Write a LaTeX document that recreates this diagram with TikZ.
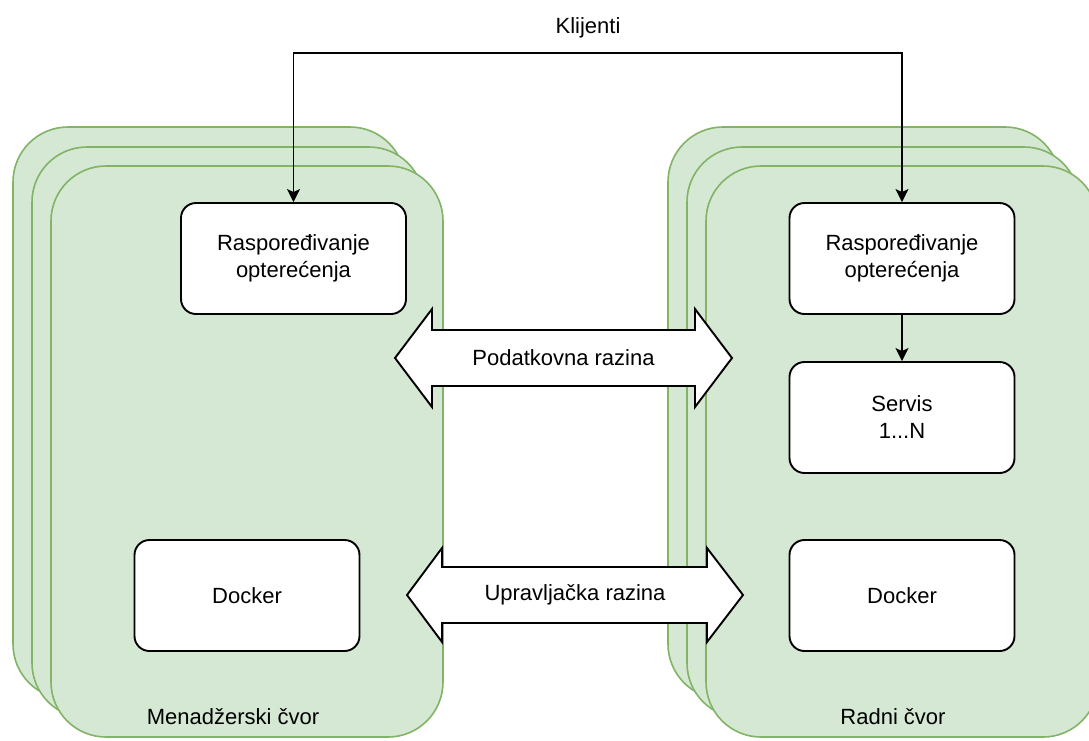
\documentclass[tikz,border=0pt]{standalone}
\usepackage{fontspec}
\setmainfont{Liberation Sans}
\usetikzlibrary{arrows.meta}
\definecolor{gfill}{HTML}{D5E8D4}
\definecolor{gline}{HTML}{82B366}
\tikzset{
  nodecard/.style={draw=gline, fill=gfill, line width=1.6pt, rounded corners=55pt},
  inbox/.style={draw=black, fill=white, line width=1.9pt, rounded corners=15pt,
    minimum width=225pt, minimum height=111pt, align=center, inner sep=0pt,
    font=\fontsize{22pt}{27pt}\selectfont},
  lbl/.style={font=\fontsize{22pt}{27pt}\selectfont, align=center, inner sep=0pt},
  arr/.style={line width=1.9pt, -{Stealth[length=13pt,width=13pt,inset=3pt]}},
  darr2/.style={line width=1.9pt, {Stealth[length=13pt,width=13pt,inset=3pt]}-{Stealth[length=13pt,width=13pt,inset=3pt]}},
  darr/.style={draw=black, fill=white, line width=1.9pt, line join=miter},
}
\begin{document}
\begin{tikzpicture}[x=1pt,y=-1pt]
\clip (0,0) rectangle (1089,740);
\fill[white] (0,0) rectangle (1089,740);
% left stack
\draw[nodecard] (13,127) rectangle (405,699);
\draw[nodecard] (32,147) rectangle (424,718);
\draw[nodecard] (51,166) rectangle (443,737);
% right stack
\draw[nodecard] (668,127) rectangle (1060,699);
\draw[nodecard] (687,147) rectangle (1079,718);
\draw[nodecard] (706,166) rectangle (1098,737);
\node[lbl] (mlab) at (233,717) {Menadžerski čvor};
\node[lbl] (rlab) at (893,717) {Radni čvor};
% inner boxes
\node[inbox] (lrasp) at (293.5,258.5) {Raspoređivanje\\opterećenja};
\node[inbox] (ldock) at (247,595.5) {Docker};
\node[inbox] (rrasp) at (902,258.5) {Raspoređivanje\\opterećenja};
\node[inbox] (serv) at (902,417.5) {Servis\\1...N};
\node[inbox] (rdock) at (902,595.5) {Docker};
% clients
\node[lbl] (kl) at (588,28) {Klijenti};
\coordinate (kla) at (293.5,53);
\coordinate (klb) at (902,53);
\draw[darr2] (lrasp.north) -- (kla) -- (klb) -- (rrasp.north);
\draw[arr] (rrasp.south) -- (serv.north);
% double arrows
\draw[darr] (395,358) -- (432,309) -- (432,330) -- (695,330) -- (695,309) -- (732,358)
  -- (695,407) -- (695,386) -- (432,386) -- (432,407) -- cycle;
\node[lbl] (pod) at (563.5,358) {Podatkovna razina};
\draw[darr] (407,595) -- (442,548) -- (442,567) -- (707,567) -- (707,548) -- (743,595)
  -- (707,642) -- (707,623) -- (442,623) -- (442,642) -- cycle;
\node[lbl] (upr) at (575,595) {Upravljačka razina};
\end{tikzpicture}
\end{document}
